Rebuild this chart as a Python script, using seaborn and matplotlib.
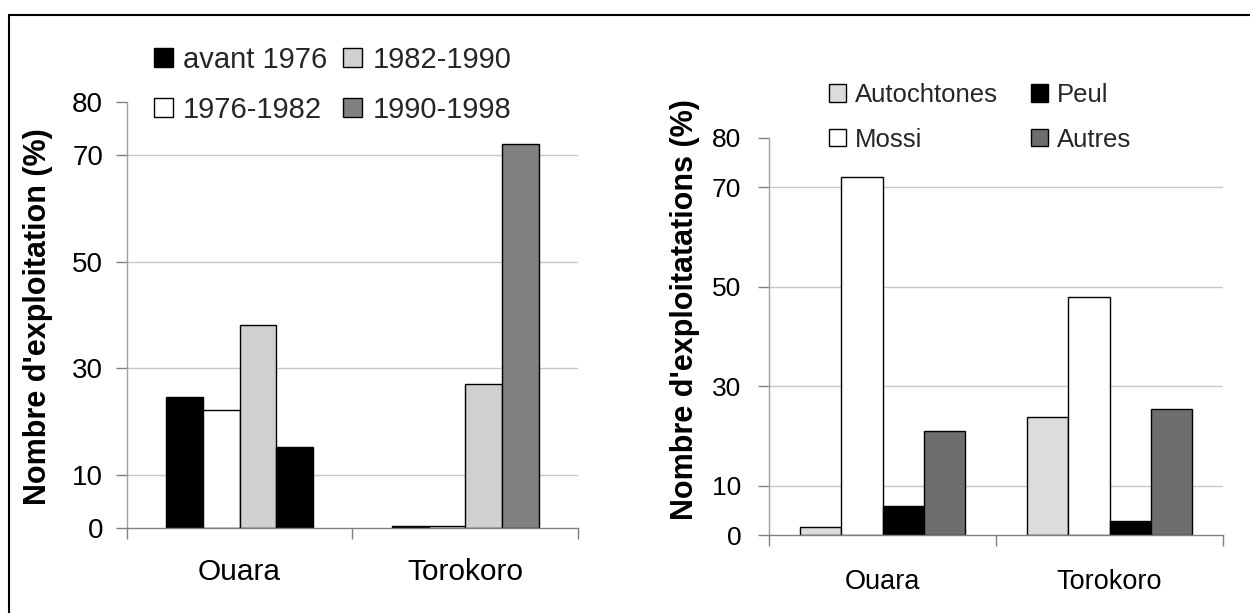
import matplotlib
matplotlib.use("Agg")
import matplotlib.pyplot as plt
import seaborn as sns
import pandas as pd
from matplotlib.patches import Rectangle

# ---- data ----
sites = ["Ouara", "Torokoro"]
periods = ["avant 1976", "1976-1982", "1982-1990", "1990-1998"]
ouara_periods = [24.6, 22.1, 38.1, 15.2]
torokoro_periods = [0.4, 0.4, 27.0, 72.2]
groups = ["Autochtones", "Mossi", "Peul", "Autres"]
ouara_groups = [1.6, 72.0, 5.8, 21.0]
torokoro_groups = [23.9, 47.9, 2.9, 25.4]
yticks = [0, 10, 30, 50, 70, 80]
left_ylabel = "Nombre d'exploitation (%)"
right_ylabel = "Nombre d'exploitatations (%)"

colors_periods = ["#000000", "#ffffff", "#d0d0d0", "#808080"]
colors_groups = ["#dcdcdc", "#ffffff", "#000000", "#6e6e6e"]

df1 = pd.DataFrame({
    "site": [s for s in sites for _ in periods],
    "cat": periods * 2,
    "value": ouara_periods + torokoro_periods,
})
df2 = pd.DataFrame({
    "site": [s for s in sites for _ in groups],
    "cat": groups * 2,
    "value": ouara_groups + torokoro_groups,
})

sns.set_theme(style="white")
plt.rcParams["font.family"] = ["Liberation Sans", "DejaVu Sans"]

W, H = 1250, 613
fig = plt.figure(figsize=(W / 100, H / 100), dpi=100)


def ax_rect(x0, x1, ybot, ytop):
    return [x0 / W, 1 - ybot / H, (x1 - x0) / W, (ybot - ytop) / H]


ax1 = fig.add_axes(ax_rect(126.7, 578, 527.7, 102.3))
ax2 = fig.add_axes(ax_rect(769, 1223, 535.3, 137.7))

sns.barplot(data=df1, x="site", y="value", hue="cat", order=sites, hue_order=periods,
            palette=colors_periods, saturation=1, width=0.65, edgecolor="black",
            linewidth=1.0, ax=ax1)
sns.barplot(data=df2, x="site", y="value", hue="cat", order=sites, hue_order=groups,
            palette=colors_groups, saturation=1, width=0.73, edgecolor="black",
            linewidth=1.0, ax=ax2)

# In the original, the 1990-1998 bar of Ouara is drawn black
ax1.containers[3].patches[0].set_facecolor("black")


def style_axis(ax, ylabel, tick_fs, xtick_fs, ypad, label_xy, xpad):
    ax.set_xlim(-0.5, 1.5)
    ax.set_ylim(0, 80)
    ax.set_yticks(yticks)
    ax.set_yticklabels([str(t) for t in yticks])
    ax.set_xticks([-0.5, 0.5, 1.5])
    ax.set_xticklabels([])
    ax.set_xticks([0, 1], minor=True)
    ax.set_xticklabels(sites, minor=True)
    ax.tick_params(axis="x", which="major", length=8, width=1, color="#808080",
                   direction="out", bottom=True)
    ax.tick_params(axis="x", which="minor", length=0, pad=xpad, labelsize=xtick_fs,
                   bottom=True)
    ax.tick_params(axis="y", length=8, width=1, color="#808080", direction="out",
                   labelsize=tick_fs, pad=ypad, left=True)
    for s in ["top", "right"]:
        ax.spines[s].set_visible(False)
    ax.spines["left"].set_color("#a0a0a0")
    ax.spines["bottom"].set_color("#808080")
    ax.spines["left"].set_linewidth(1)
    ax.spines["bottom"].set_linewidth(1)
    ax.yaxis.grid(True, color="#c8c8c8", lw=1)
    ax.set_axisbelow(True)
    gls = ax.get_ygridlines()
    gls[0].set_visible(False)
    gls[-1].set_visible(False)
    ax.set_xlabel("")
    ax.set_ylabel(ylabel, fontsize=22, fontweight="bold", color="black")
    ax.yaxis.set_label_coords(*label_xy)
    for t in ax.get_yticklabels() + ax.get_xticklabels(minor=True):
        t.set_color("black")


style_axis(ax1, left_ylabel, 20, 21.5, 9, (-0.163, 0.496), 22)
style_axis(ax2, right_ylabel, 19, 19.5, 12, (-0.152, 0.567), 24)


def relegend(ax, anchor, fs, colsp, labsp):
    leg = ax.get_legend()
    handles = leg.legend_handles
    labels = [t.get_text() for t in leg.texts]
    leg.remove()
    for h in handles:
        h.set_edgecolor("black")
        h.set_linewidth(1.0)
    fig.legend(handles, labels, ncol=2, loc="upper left",
               bbox_to_anchor=(anchor[0] / W, 1 - anchor[1] / H),
               frameon=False, fontsize=fs, handlelength=0.65, handleheight=0.65,
               handletextpad=0.35, columnspacing=colsp, labelspacing=labsp,
               borderpad=0, borderaxespad=0)


relegend(ax1, (154, 46), 21, 0.55, 0.75)
relegend(ax2, (829, 83), 18.5, 1.3, 0.8)

# figure frame (cropped on right and bottom in the original)
fig.patches.append(Rectangle((9 / W, -0.1), 1.2, (1 - 15 / H) + 0.1,
                             transform=fig.transFigure, fill=False,
                             edgecolor="black", lw=1.5))

fig.savefig("out.png", dpi=100)
